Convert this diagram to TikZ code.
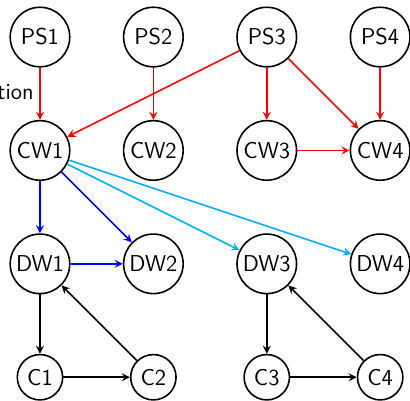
\documentclass[tikz,border=0pt]{standalone}
\usetikzlibrary{arrows}
\definecolor{lightblue}{RGB}{0,174,239}
\begin{document}
\begin{tikzpicture}[every node/.style={circle, draw, minimum size=1.05cm, inner sep=0pt,
                        font=\sffamily\fontsize{11.5}{14}\selectfont},
                        small/.style={minimum size=0.8cm},
                        thick, >=stealth]
        \useasboundingbox (-0.705,0.653) rectangle (6.526,-6.419);
        % Define process nodes
        \node (PS1) at (0,0) {PS1};
        \node (PS2) at (2,0) {PS2};
        \node (PS3) at (4,0) {PS3};
        \node (PS4) at (6,0) {PS4};
        \node[draw=none, rectangle, minimum size=0pt, anchor=base east] (lbl) at (-0.10,-1.11) {tion};

        % Define CW and DW nodes
        \node (CW1) at (0,-2) {CW1};
        \node (CW2) at (2,-2) {CW2};
        \node (CW3) at (4,-2) {CW3};
        \node (CW4) at (6,-2) {CW4};
        \node (DW1) at (0,-4) {DW1};
        \node (DW2) at (2,-4) {DW2};
        \node (DW3) at (4,-4) {DW3};
        \node (DW4) at (6,-4) {DW4};

        % Define C nodes
        \node[small] (C1) at (0,-6) {C1};
        \node[small] (C2) at (2,-6) {C2};
        \node[small] (C3) at (4,-6) {C3};
        \node[small] (C4) at (6,-6) {C4};

        % Red connections
        \draw[->, red] (PS1) -- (CW1);
        \draw[->, red] (PS2) -- (CW2);
        \draw[->, red] (PS3) -- (CW1);
        \draw[->, red] (PS3) -- (CW3);
        \draw[->, red] (PS3) -- (CW4);
        \draw[->, red] (PS4) -- (CW4);
        \draw[->, red] (CW3) -- (CW4);

        % Blue connections
        \draw[->, blue] (CW1) -- (DW1);
        \draw[->, blue] (CW1) -- (DW2);
        \draw[->, blue] (DW1) -- (DW2);
        \draw[->, lightblue] (CW1) -- (DW3);
        \draw[->, lightblue] (CW1) -- (DW4);

        % Black cycles
        \draw[->] (DW1) -- (C1);
        \draw[->] (C1) -- (C2);
        \draw[->] (C2) -- (DW1);
        \draw[->] (DW3) -- (C3);
        \draw[->] (C3) -- (C4);
        \draw[->] (C4) -- (DW3);
        
    \end{tikzpicture}
\end{document}
